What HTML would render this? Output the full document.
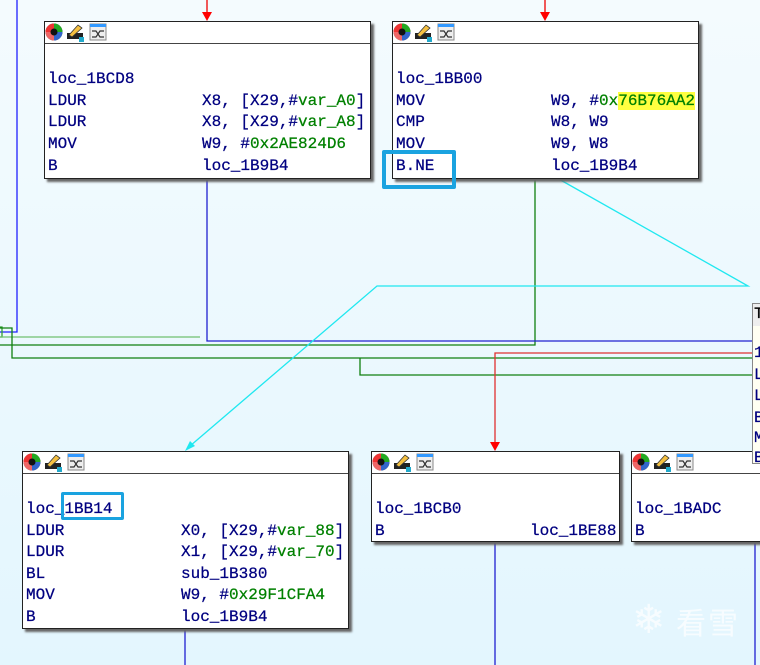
<!DOCTYPE html>
<html><head><meta charset="utf-8"><style>
body{margin:0;width:760px;height:665px;overflow:hidden;background:linear-gradient(#f4fbfe,#e3f6fe);position:relative;font-family:"Liberation Mono",monospace;}
.n{position:absolute;background:#fff;border:1px solid #222;box-shadow:3px 3px 2px #666;box-sizing:border-box;}
.h{height:21px;border-bottom:1px solid #444;position:relative;}
.t{position:absolute;font-size:16px;line-height:20px;color:#000080;white-space:pre;-webkit-text-stroke:0.25px currentColor;}
.g{color:#008000}
svg{position:absolute;left:0;top:0;}
.hl{position:absolute;border:4px solid #1aa3e0;border-radius:2px;box-sizing:border-box;}
</style></head><body>
<svg width="760" height="665">
<g fill="none" stroke-width="1.3">
<polyline points="17,0 17,332 0,332" stroke="#2020ff"/>
<polyline points="0,327 2,327 2,337 0,337" stroke="#33a033"/>
<line x1="0" y1="337" x2="200" y2="337" stroke="#70c070"/>
<polyline points="535,178 535,345 0,345" stroke="#108010"/>
<polyline points="0,328 12,328 12,358 760,358" stroke="#108010"/>
<polyline points="360,358 360,375 760,375" stroke="#108010"/>
<polyline points="207,178 207,341 760,341" stroke="#2020d0"/>
<polyline points="760,353 495,353 495,445" stroke="#e03030"/>
<polyline points="557,178 748,286 377,286 190,446" stroke="#20e8f0"/>
<line x1="207" y1="0" x2="207" y2="14" stroke="#e00"/>
<line x1="545" y1="0" x2="545" y2="14" stroke="#e00"/>
<line x1="185" y1="628" x2="185" y2="665" stroke="#2020d0"/>
<line x1="495" y1="541" x2="495" y2="665" stroke="#2020d0"/>
<line x1="755" y1="463" x2="755" y2="665" stroke="#2020d0"/>
</g>
<polygon points="202,12 212,12 207,21" fill="#f00"/>
<polygon points="540,12 550,12 545,21" fill="#f00"/>
<polygon points="490,442 500,442 495,451" fill="#f00"/>
<polygon points="185,451 190,441 195,446" fill="#20e8f0"/>
</svg>

<div class="n" style="left:44px;top:21px;width:327px;height:158px"><div class="h"></div></div>
<div class="n" style="left:392px;top:21px;width:307px;height:158px"><div class="h"></div></div>
<div class="n" style="left:22px;top:451px;width:327px;height:178px"><div class="h"></div></div>
<div class="n" style="left:371px;top:451px;width:249px;height:91px"><div class="h"></div></div>
<div class="n" style="left:631px;top:451px;width:140px;height:91px"><div class="h"></div></div>
<div class="n" style="left:752px;top:303px;width:20px;height:161px;background:#fffff2;box-shadow:none;border-color:#888"><div style="height:22px;background:#eee"></div></div>

<svg width="760" height="665">
<defs><g id="icons">
<circle cx="9" cy="10" r="8.5" fill="#222"/>
<path d="M9 1.5 A8.5 8.5 0 0 1 17.5 10 L9 10Z" fill="#2a2"/>
<path d="M17.5 10 A8.5 8.5 0 0 1 9 18.5 L9 10Z" fill="#36c"/>
<path d="M9 18.5 A8.5 8.5 0 0 1 0.5 10 L9 10Z" fill="#e66"/>
<path d="M0.5 10 A8.5 8.5 0 0 1 9 1.5 L9 10Z" fill="#e33"/>
<circle cx="9" cy="10" r="3.5" fill="#111"/>
<rect x="22" y="11" width="16" height="6" fill="#222"/>
<path d="M24 13 L33 3 L37 6 L27 15Z" fill="#f5c040" stroke="#333" stroke-width="0.8"/>
<rect x="34" y="15" width="5" height="5" fill="#2ac"/>
<rect x="45" y="2" width="16" height="16" fill="#eee" stroke="#888"/>
<rect x="45" y="2" width="16" height="3" fill="#39f"/>
<path d="M47 9 L51 9 L55 15 L59 15 M47 15 L51 15 L55 9 L59 9" stroke="#333" fill="none" stroke-width="1.2"/>
</g></defs>
<use href="#icons" x="45" y="22"/>
<use href="#icons" x="393" y="22"/>
<use href="#icons" x="23" y="452"/>
<use href="#icons" x="372" y="452"/>
<use href="#icons" x="632" y="452"/>
</svg>

<div class="t" style="left:48px;top:69px">loc_1BCD8</div>
<div class="t" style="left:48px;top:91px">LDUR</div><div class="t" style="left:202px;top:91px">X8, [X29,#<span class="g">var_A0</span>]</div>
<div class="t" style="left:48px;top:112px">LDUR</div><div class="t" style="left:202px;top:112px">X8, [X29,#<span class="g">var_A8</span>]</div>
<div class="t" style="left:48px;top:134px">MOV</div><div class="t" style="left:202px;top:134px">W9, #<span class="g">0x2AE824D6</span></div>
<div class="t" style="left:48px;top:156px">B</div><div class="t" style="left:202px;top:156px">loc_1B9B4</div>

<div class="t" style="left:396px;top:69px">loc_1BB00</div>
<div class="t" style="left:396px;top:91px">MOV</div><div class="t" style="left:551px;top:91px">W9, #<span class="g">0x<span style="background:#ffff40">76B76AA2</span></span></div>
<div class="t" style="left:396px;top:112px">CMP</div><div class="t" style="left:551px;top:112px">W8, W9</div>
<div class="t" style="left:396px;top:134px">MOV</div><div class="t" style="left:551px;top:134px">W9, W8</div>
<div class="t" style="left:396px;top:156px">B.NE</div><div class="t" style="left:551px;top:156px">loc_1B9B4</div>

<div class="t" style="left:26px;top:499px">loc_1BB14</div>
<div class="t" style="left:26px;top:521px">LDUR</div><div class="t" style="left:181px;top:521px">X0, [X29,#<span class="g">var_88</span>]</div>
<div class="t" style="left:26px;top:542px">LDUR</div><div class="t" style="left:181px;top:542px">X1, [X29,#<span class="g">var_70</span>]</div>
<div class="t" style="left:26px;top:564px">BL</div><div class="t" style="left:181px;top:564px">sub_1B380</div>
<div class="t" style="left:26px;top:585px">MOV</div><div class="t" style="left:181px;top:585px">W9, #<span class="g">0x29F1CFA4</span></div>
<div class="t" style="left:26px;top:607px">B</div><div class="t" style="left:181px;top:607px">loc_1B9B4</div>

<div class="t" style="left:375px;top:499px">loc_1BCB0</div>
<div class="t" style="left:375px;top:521px">B</div><div class="t" style="left:530px;top:521px">loc_1BE88</div>

<div class="t" style="left:635px;top:499px">loc_1BADC</div>
<div class="t" style="left:635px;top:521px">B</div>

<div class="t" style="left:754px;top:304px;color:#000">T</div>
<div class="t" style="left:754px;top:343px">1</div>
<div class="t" style="left:754px;top:365px">L</div>
<div class="t" style="left:754px;top:386px">L</div>
<div class="t" style="left:754px;top:408px">B</div>
<div class="t" style="left:754px;top:428px">M</div>
<div class="t" style="left:754px;top:448px">B</div>

<div class="hl" style="left:382px;top:150px;width:74px;height:39px"></div>
<div class="hl" style="left:61px;top:492px;width:63px;height:28px;border-width:3px"></div>

<div style="position:absolute;left:632px;top:600px;font-family:'DejaVu Sans',sans-serif;font-size:40px;line-height:40px;color:rgba(255,255,255,0.7)">❄</div>
<div style="position:absolute;left:676px;top:604px;font-family:'Noto Sans CJK SC',sans-serif;font-size:30px;line-height:34px;color:rgba(255,255,255,0.7);letter-spacing:2px">看雪</div>
</body></html>
